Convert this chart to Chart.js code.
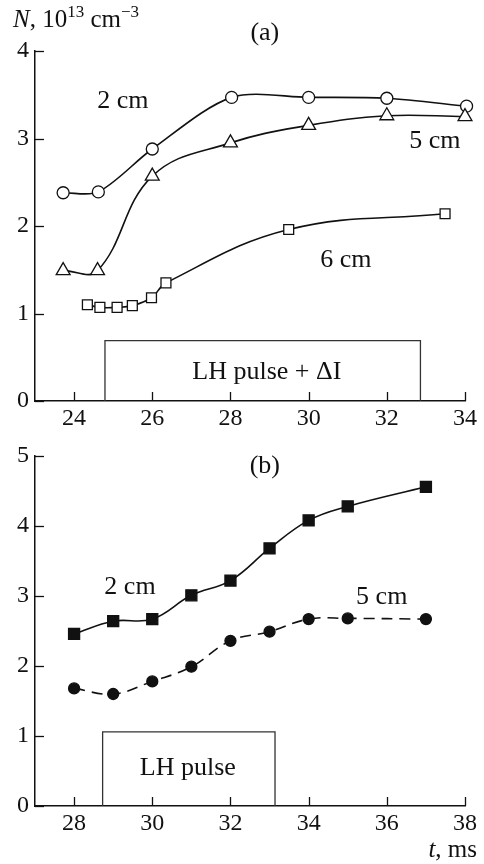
<!DOCTYPE html>
<html>
<head>
<meta charset="utf-8">
<script src="https://cdn.jsdelivr.net/npm/chart.js@4.4.0/dist/chart.umd.min.js"></script>
<style>
    html, body { margin: 0; padding: 0; background: #fff; }
    #wrap { position: relative; width: 484px; height: 864px; }
    canvas { position: absolute; left: 0; }
    #chartA { top: 0; }
    #chartB { top: 432px; }
</style>
</head>
<body>
<div id="wrap">
    <canvas id="chartA" width="484" height="432"></canvas>
    <canvas id="chartB" width="484" height="432"></canvas>
</div>
<script>
// ---- panel (a) data ----
var tA2 = [23.72, 24.62, 26.0, 28.03, 30.0, 32.0, 34.04];   // 2 cm, circles
var nA2 = [2.38, 2.39, 2.88, 3.47, 3.47, 3.46, 3.37];
var tA5 = [23.72, 24.6, 26.0, 28.0, 30.0, 32.0, 34.0];       // 5 cm, triangles
var nA5 = [1.49, 1.49, 2.57, 2.95, 3.15, 3.26, 3.25];
var tA6 = [24.34, 24.66, 25.1, 25.49, 25.98, 26.35, 29.49, 33.49]; // 6 cm, squares
var nA6 = [1.10, 1.07, 1.07, 1.09, 1.18, 1.35, 1.96, 2.14];
var pulseA = [24.79, 32.86];   // LH pulse + dI, time span
var pulseAHeight = 0.69;
var xTicksA = [24, 26, 28, 30, 32, 34];
var yTicksA = [0, 1, 2, 3, 4];

// ---- panel (b) data ----
var tB = [28, 29, 30, 31, 32, 33, 34, 35, 37];
var nB2 = [2.46, 2.64, 2.67, 3.01, 3.22, 3.68, 4.08, 4.28, 4.56];  // 2 cm, filled squares
var nB5 = [1.68, 1.60, 1.78, 1.99, 2.36, 2.49, 2.67, 2.68, 2.67];  // 5 cm, filled circles
var pulseB = [28.73, 33.14];
var pulseBHeight = 1.06;
var xTicksB = [28, 30, 32, 34, 36, 38];
var yTicksB = [0, 1, 2, 3, 4, 5];

var INK = "#111";
var SERIF = "'Liberation Serif', 'Times New Roman', serif";

function pts(xs, ys) {
    return xs.map(function(x, i) { return { x: x, y: ys[i] }; });
}
function box(span, h) {
    return [{ x: span[0], y: 0 }, { x: span[0], y: h }, { x: span[1], y: h }, { x: span[1], y: 0 }];
}

// ticks pointing into the plot
var innerTicks = {
    id: "innerTicks",
    afterDatasetsDraw: function(chart) {
        var ctx = chart.ctx, xs = chart.scales.x, ys = chart.scales.y;
        var a = chart.chartArea;
        ctx.save();
        ctx.strokeStyle = INK;
        ctx.lineWidth = 1.3;
        xs.ticks.forEach(function(t) {
            var px = Math.round(xs.getPixelForValue(t.value)) + 0.5;
            ctx.beginPath(); ctx.moveTo(px, a.bottom); ctx.lineTo(px, a.bottom - 9); ctx.stroke();
        });
        ys.ticks.forEach(function(t) {
            var py = Math.round(ys.getPixelForValue(t.value)) + 0.5;
            ctx.beginPath(); ctx.moveTo(a.left, py); ctx.lineTo(a.left + 9, py); ctx.stroke();
        });
        ctx.restore();
    }
};

// text parts: {t, italic, sup}
function drawRich(ctx, parts, x, y, size) {
    parts.forEach(function(p) {
        var s = p.sup ? Math.round(size * 0.68) : size;
        ctx.font = (p.italic ? "italic " : "") + s + "px " + SERIF;
        ctx.fillText(p.t, x, p.sup ? y - size * 0.4 : y);
        x += ctx.measureText(p.t).width;
    });
}

// labels placed in data coordinates
var labels = {
    id: "labels",
    afterDraw: function(chart, args, opts) {
        var ctx = chart.ctx, xs = chart.scales.x, ys = chart.scales.y;
        ctx.save();
        ctx.fillStyle = INK;
        ctx.textAlign = "center";
        ctx.textBaseline = "middle";
        (opts.items || []).forEach(function(it) {
            ctx.font = it.size + "px " + SERIF;
            ctx.fillText(it.text, xs.getPixelForValue(it.x), ys.getPixelForValue(it.y));
        });
        ctx.textAlign = "left";
        ctx.textBaseline = "alphabetic";
        (opts.rich || []).forEach(function(r) {
            var x = r.x;
            if (r.right) {
                var w = 0;
                r.parts.forEach(function(p) {
                    ctx.font = (p.italic ? "italic " : "") + r.size + "px " + SERIF;
                    w += ctx.measureText(p.t).width;
                });
                x = r.x - w;
            }
            drawRich(ctx, r.parts, x, r.y, r.size);
        });
        ctx.restore();
    }
};

function scaleOpts(min, max, ticks, size, yAxis) {
    return {
        type: "linear",
        min: min,
        max: max,
        afterBuildTicks: function(s) { s.ticks = ticks.map(function(v) { return { value: v }; }); },
        afterFit: function(s) { if (yAxis) s.width = 35; else s.height = size; },
        border: { display: true, color: INK, width: 1.5 },
        grid: { display: false, drawTicks: false },
        ticks: {
            color: INK,
            padding: yAxis ? 6 : 3,
            font: { family: SERIF, size: 24 },
            autoSkip: false,
            maxRotation: 0
        }
    };
}

function curve(data, shape, radius, filled, dash, tension) {
    return {
        data: data,
        borderColor: INK,
        borderWidth: 1.6,
        borderDash: dash || [],
        pointStyle: shape,
        pointRadius: radius,
        pointBorderWidth: 1.3,
        pointBorderColor: INK,
        pointBackgroundColor: filled ? INK : "#fff",
        tension: tension || 0.4,
        fill: false,
        clip: false
    };
}

function rect(data) {
    return {
        data: data,
        borderColor: "#333",
        borderWidth: 1.3,
        pointRadius: 0,
        tension: 0,
        fill: false,
        clip: false
    };
}

var chartA = new Chart(document.getElementById("chartA"), {
    type: "line",
    data: {
        datasets: [
            rect(box(pulseA, pulseAHeight)),
            curve(pts(tA6, nA6), "rect", 7, false),
            curve(pts(tA5, nA5), "triangle", 8, false),
            curve(pts(tA2, nA2), "circle", 6, false, null, 0.3)
        ]
    },
    options: {
        responsive: false,
        animation: false,
        devicePixelRatio: 1,
        layout: { padding: { left: 0, right: 19, top: 51, bottom: 0 } },
        scales: {
            x: scaleOpts(23, 34, xTicksA, 31, false),
            y: scaleOpts(0, 4, yTicksA, 0, true)
        },
        plugins: {
            legend: { display: false },
            tooltip: { enabled: false },
            labels: {
                items: [
                    { text: "(a)", x: 28.88, y: 4.2, size: 26 },
                    { text: "2 cm", x: 25.25, y: 3.43, size: 26 },
                    { text: "5 cm", x: 33.23, y: 2.975, size: 26 },
                    { text: "6 cm", x: 30.95, y: 1.61, size: 26 },
                    { text: "LH pulse + \u0394I", x: 28.93, y: 0.335, size: 26 }
                ],
                rich: [
                    { x: 13, y: 27, size: 25, parts: [
                        { t: "N", italic: true }, { t: ", 10" }, { t: "13", sup: true },
                        { t: " cm" }, { t: "\u22123", sup: true }
                    ] }
                ]
            }
        }
    },
    plugins: [innerTicks, labels]
});

var chartB = new Chart(document.getElementById("chartB"), {
    type: "line",
    data: {
        datasets: [
            rect(box(pulseB, pulseBHeight)),
            curve(pts(tB, nB5), "circle", 5.5, true, [11, 7]),
            curve(pts(tB, nB2), "rect", 7.8, true)
        ]
    },
    options: {
        responsive: false,
        animation: false,
        devicePixelRatio: 1,
        layout: { padding: { left: 0, right: 19, top: 24, bottom: 0 } },
        scales: {
            x: scaleOpts(27, 38, xTicksB, 58, false),
            y: scaleOpts(0, 5, yTicksB, 0, true)
        },
        plugins: {
            legend: { display: false },
            tooltip: { enabled: false },
            labels: {
                items: [
                    { text: "(b)", x: 32.88, y: 4.85, size: 26 },
                    { text: "2 cm", x: 29.43, y: 3.13, size: 26 },
                    { text: "5 cm", x: 35.87, y: 2.99, size: 26 },
                    { text: "LH pulse", x: 30.91, y: 0.54, size: 26 }
                ],
                rich: [
                    { x: 477, y: 425, size: 25, right: true, parts: [
                        { t: "t", italic: true }, { t: ", ms" }
                    ] }
                ]
            }
        }
    },
    plugins: [innerTicks, labels]
});
</script>
</body>
</html>
